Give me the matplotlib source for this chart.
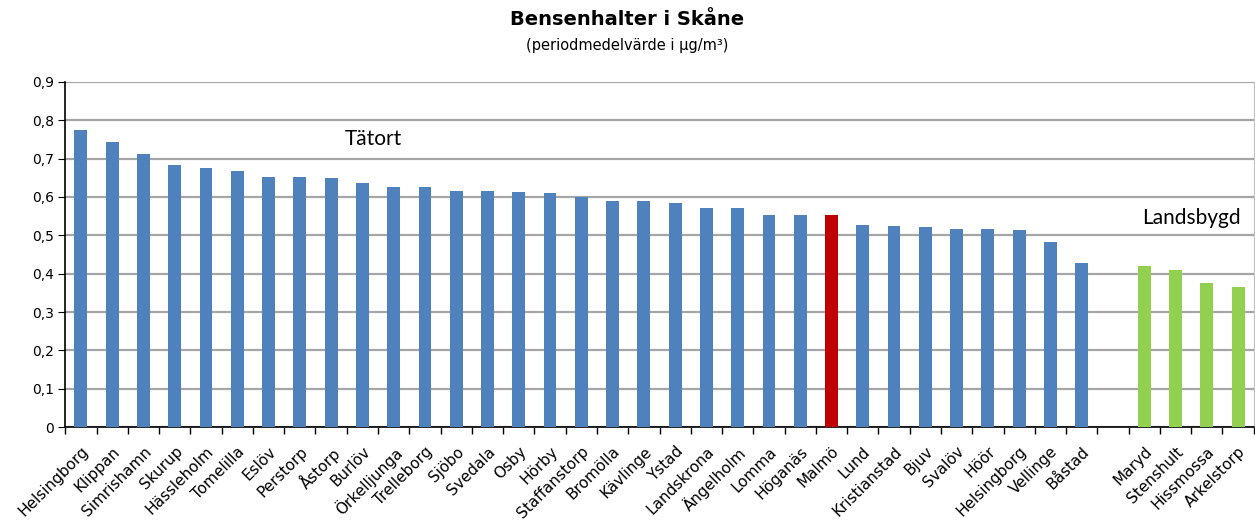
import matplotlib
matplotlib.use("Agg")
import matplotlib.pyplot as plt
from matplotlib.ticker import FuncFormatter, FixedLocator

# ---------------------------
# Data
# ---------------------------
tatort_names = [
    "Helsingborg", "Klippan", "Simrishamn", "Skurup", "Hässleholm", "Tomelilla",
    "Eslöv", "Perstorp", "Åstorp", "Burlöv", "Örkelljunga", "Trelleborg",
    "Sjöbo", "Svedala", "Osby", "Hörby", "Staffanstorp", "Bromölla",
    "Kävlinge", "Ystad", "Landskrona", "Ängelholm", "Lomma", "Höganäs",
    "Malmö", "Lund", "Kristianstad", "Bjuv", "Svalöv", "Höör",
    "Helsingborg", "Vellinge", "Båstad",
]
tatort_values = [
    0.775, 0.742, 0.712, 0.683, 0.675, 0.668,
    0.652, 0.652, 0.649, 0.637, 0.627, 0.627,
    0.616, 0.616, 0.614, 0.611, 0.600, 0.590,
    0.590, 0.585, 0.572, 0.570, 0.554, 0.554,
    0.552, 0.526, 0.524, 0.521, 0.516, 0.516,
    0.513, 0.482, 0.429,
]
landsbygd_names = ["Maryd", "Stenshult", "Hissmossa", "Arkelstorp"]
landsbygd_values = [0.420, 0.410, 0.375, 0.366]
highlight = "Malmö"

BLUE = "#4F81BD"
RED = "#C00000"
GREEN = "#92D050"

# ---------------------------
# Plot
# ---------------------------
fig = plt.figure(figsize=(12.55, 5.21), dpi=100)
ax = fig.add_axes([0.052, 0.180, 0.947, 0.663])

n_t = len(tatort_names)
x_t = list(range(n_t))
x_l = [n_t + 1 + i for i in range(len(landsbygd_names))]
colors_t = [RED if name == highlight else BLUE for name in tatort_names]

ax.bar(x_t, tatort_values, width=0.41, color=colors_t, zorder=3)
ax.bar(x_l, landsbygd_values, width=0.41, color=GREEN, zorder=3)

n_slots = n_t + 1 + len(landsbygd_names)
ax.set_xlim(-0.5, n_slots - 0.5)
ax.set_ylim(0, 0.9)

ax.set_xticks(x_t + x_l)
ax.set_xticklabels(tatort_names + landsbygd_names, rotation=45, ha="right",
                   rotation_mode="anchor", fontsize=11)
ax.tick_params(axis="x", which="major", length=0, pad=12)
ax.xaxis.set_minor_locator(FixedLocator([i - 0.5 for i in range(n_slots + 1)]))
ax.tick_params(axis="x", which="minor", length=5, direction="out", width=1)

ax.set_yticks([i / 10 for i in range(10)])
ax.yaxis.set_major_formatter(
    FuncFormatter(lambda v, p: "0" if abs(v) < 1e-9 else f"{v:.1f}".replace(".", ",")))
ax.tick_params(axis="y", length=5, direction="out", labelsize=10, pad=3)

ax.grid(axis="y", color="#A6A6A6", linewidth=1.6, zorder=0)
ax.spines["top"].set_visible(False)
ax.spines["right"].set_color("#BFBFBF")
ax.spines["left"].set_color("black")
ax.spines["bottom"].set_color("black")
ax.spines["left"].set_linewidth(1.2)
ax.spines["bottom"].set_linewidth(1.2)

ax.text(9.35, 0.75, "Tätort", fontsize=15, family="Lato", ha="center", va="center")
ax.text(35.5, 0.545, "Landsbygd", fontsize=15, family="Lato", ha="center", va="center")

fig.text(0.5, 0.962, "Bensenhalter i Skåne", ha="center", va="center",
         fontsize=14, fontweight="bold")
fig.text(0.5, 0.913, "(periodmedelvärde i µg/m³)", ha="center", va="center",
         fontsize=10.5)

fig.savefig("out.png", dpi=100)
